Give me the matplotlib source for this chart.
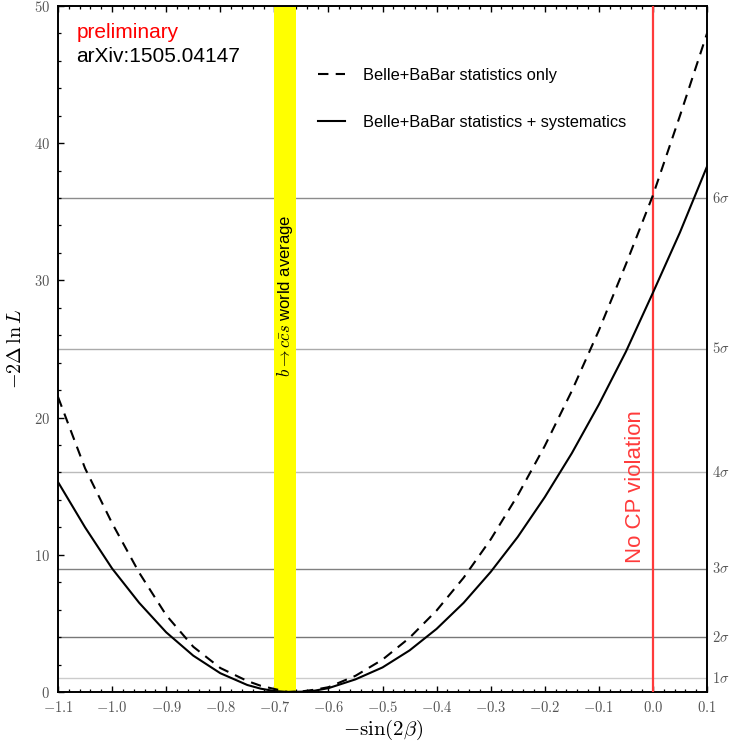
import matplotlib
matplotlib.use('Agg')
import matplotlib.pyplot as plt
from matplotlib.ticker import MultipleLocator, FuncFormatter
from matplotlib.transforms import blended_transform_factory

plt.rcParams['mathtext.fontset'] = 'cm'
plt.rcParams['font.family'] = ['Liberation Sans', 'DejaVu Sans']

# scan points
sin2b = [-1.10, -1.05, -1.00, -0.95, -0.90, -0.85, -0.80, -0.75, -0.725, -0.70, -0.675,
         -0.65, -0.625, -0.60, -0.55, -0.50, -0.45, -0.40, -0.35, -0.30, -0.25, -0.20,
         -0.15, -0.10, -0.05, 0.00, 0.05, 0.10]
stat_only = [21.5, 16.3, 12.3, 8.7, 5.6, 3.3, 1.75, 0.8, 0.45, 0.22, 0.0,
             0.04, 0.17, 0.35, 1.18, 2.36, 3.95, 5.94, 8.33, 11.12, 14.33, 17.93,
             21.94, 26.35, 31.17, 36.2, 42.0, 48.0]
stat_syst = [15.3, 12.0, 9.0, 6.5, 4.35, 2.65, 1.37, 0.51, 0.24, 0.07, 0.0,
             0.02, 0.1, 0.28, 0.92, 1.79, 3.03, 4.6, 6.5, 8.75, 11.3, 14.2,
             17.4, 20.95, 24.8, 29.1, 33.5, 38.3]

sigma_levels = [1, 4, 9, 16, 25, 36]
sigma_labels = [r'$1\sigma$', r'$2\sigma$', r'$3\sigma$', r'$4\sigma$', r'$5\sigma$', r'$6\sigma$']
sigma_colors = ['#cccccc', '#777777', '#808080', '#bbbbbb', '#aaaaaa', '#8c8c8c']

world_avg = (-0.70, -0.66)

fig = plt.figure(figsize=(7.30, 7.46), dpi=100)
ax = fig.add_axes([0.0795, 0.0724, 0.889, 0.9196])

for lev, col in zip(sigma_levels, sigma_colors):
    ax.axhline(lev, color=col, lw=1.0, zorder=1)

ax.axvspan(world_avg[0], world_avg[1], color='#ffff00', lw=0, zorder=2)
ax.axvline(0.0, color='#ff3b3b', lw=1.6, zorder=3)

l_stat, = ax.plot(sin2b, stat_only, color='black', lw=1.5, ls=(0, (5, 3.5)), zorder=4)
l_syst, = ax.plot(sin2b, stat_syst, color='black', lw=1.5, zorder=4)

ax.set_xlim(-1.1, 0.1)
ax.set_ylim(0, 50)

ax.xaxis.set_major_locator(MultipleLocator(0.1))
ax.xaxis.set_minor_locator(MultipleLocator(0.02))
ax.yaxis.set_major_locator(MultipleLocator(10))
ax.yaxis.set_minor_locator(MultipleLocator(2))
ax.xaxis.set_major_formatter(FuncFormatter(lambda v, p: r'$%.1f$' % (0.0 if abs(v) < 1e-9 else v)))
ax.yaxis.set_major_formatter(FuncFormatter(lambda v, p: r'$%d$' % v))

ax.tick_params(which='both', direction='in', top=True, right=False, colors='black',
               labelcolor='#555555', labelsize=10.5)
ax.tick_params(which='major', length=4.5, width=1.0, pad=6)
ax.tick_params(which='minor', length=2.3, width=0.9)
for s in ax.spines.values():
    s.set_linewidth(1.4)

ax.set_xlabel(r'$-\sin(2\beta)$', fontsize=15, labelpad=2)
ax.set_ylabel(r'$-2\Delta\,\ln L$', fontsize=14.5, labelpad=6)

# sigma labels on the right
trans = blended_transform_factory(ax.transAxes, ax.transData)
for lev, lab in zip(sigma_levels, sigma_labels):
    ax.text(1.008, lev, lab, transform=trans, ha='left', va='center',
            fontsize=10.5, color='#555555')

ax.text(-0.681, 28.9, r'$b\rightarrow c\bar{c}s$ world average', rotation=90,
        ha='center', va='center', fontsize=12, zorder=5)
ax.text(-0.013, 15.0, 'No CP violation', rotation=90, ha='right', va='center',
        fontsize=16, color='#ff3b3b', zorder=5)

ax.text(0.028, 0.961, 'preliminary', transform=ax.transAxes, ha='left', va='center',
        fontsize=15, color='red')
ax.text(0.028, 0.926, 'arXiv:1505.04147', transform=ax.transAxes, ha='left', va='center',
        fontsize=15, color='black')

ax.legend([l_stat, l_syst],
          ['Belle+BaBar statistics only', 'Belle+BaBar statistics + systematics'],
          loc='upper left', bbox_to_anchor=(0.4006, 0.9096), frameon=False,
          fontsize=11.8, handlelength=1.65, handletextpad=1.1, labelspacing=1.95,
          borderpad=0, borderaxespad=0)

fig.savefig('out.png', dpi=100)
